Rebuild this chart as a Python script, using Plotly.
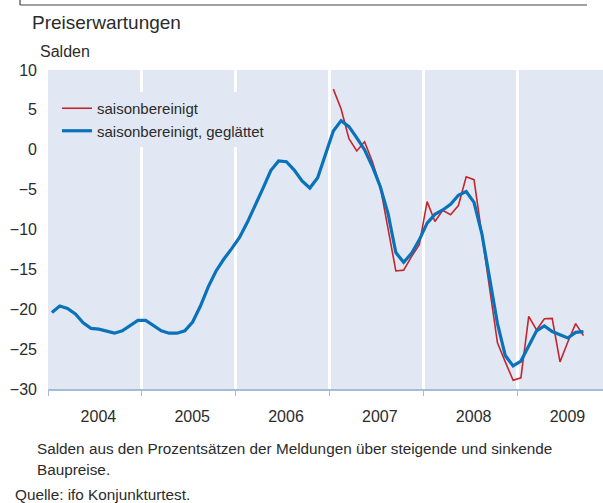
import plotly.graph_objects as go

# Monthly index 0 = Jan 2004
months_blue = list(range(69))
blue = [-20.4, -19.6, -19.9, -20.6, -21.7, -22.4, -22.5, -22.8, -23.0, -22.7, -22.05, -21.4,
        -21.4, -22.0, -22.7, -23.0, -23.0, -22.7, -21.6, -19.6, -17.2, -15.2, -13.7, -12.4,
        -11.0, -9.1, -7.05, -4.85, -2.6, -1.4, -1.5, -2.55, -3.9, -4.8, -3.5, -0.6,
        2.35, 3.65, 2.9, 1.5, 0.0, -2.1, -4.6, -8.0, -12.9, -14.1, -13.0, -11.3,
        -9.2, -8.1, -7.55, -6.85, -5.7, -5.25, -6.6, -10.5, -16.0, -21.8, -25.8, -27.1,
        -26.5, -24.6, -22.7, -22.1, -22.8, -23.2, -23.6, -22.9, -22.8]

months_red = list(range(36, 69))
red = [7.6, 5.1, 1.4, -0.15, 1.0, -1.5, -4.6, -10.0, -15.2, -15.1, -13.4, -11.9,
       -6.5, -9.0, -7.6, -8.15, -7.0, -3.4, -3.75, -10.6, -17.5, -24.2, -26.6, -28.9,
       -28.6, -20.9, -22.6, -21.2, -21.15, -26.6, -24.1, -21.8, -23.3]

years = ["2004", "2005", "2006", "2007", "2008", "2009"]
year_starts = [0, 12, 24, 36, 48, 60]
year_mids = [s + 6.45 for s in year_starts]

FONT = "Liberation Sans, Arial, sans-serif"
TXT = "#2b2b2b"
BG = "#e1e8f3"
AX = "#a3bcd8"

# plot points at mid-month
xb = [m + 0.5 for m in months_blue]
xr = [m + 0.5 for m in months_red]

fig = go.Figure()
fig.add_trace(go.Scatter(x=xr, y=red, mode="lines", name="saisonbereinigt",
                         line=dict(color="#c4262e", width=1.6)))
fig.add_trace(go.Scatter(x=xb, y=blue, mode="lines", name="saisonbereinigt, geglättet",
                         line=dict(color="#0a72b8", width=3.2)))

W, H = 603, 503
L, R, T, B = 48, 0, 70, 114
pw, ph = W - L - R, H - T - B

def px(x):
    return (x - L) / pw

def py(y):
    return (H - B - y) / ph

fig.update_layout(
    width=W, height=H,
    margin=dict(l=L, r=R, t=T, b=B),
    paper_bgcolor="white", plot_bgcolor=BG,
    font=dict(family=FONT, size=15, color=TXT),
    showlegend=True,
    legend=dict(x=px(57), y=py(92), xanchor="left", yanchor="top",
                bgcolor=BG, borderwidth=0, font=dict(size=15, color=TXT),
                tracegroupgap=0, itemwidth=30),
    xaxis=dict(range=[0, 71], tickmode="array", tickvals=year_mids, ticktext=years,
               ticks="", showgrid=False, zeroline=False,
               showline=True, linecolor=AX, linewidth=1.5,
               tickfont=dict(size=16, color=TXT), ticklabelstandoff=12,
               minor=dict(tickmode="array", tickvals=year_starts, ticks="outside",
                          ticklen=5, tickcolor=AX, tickwidth=1,
                          showgrid=True, gridcolor="white", gridwidth=3)),
    yaxis=dict(range=[-30, 10], tickmode="array", tickvals=list(range(-30, 11, 5)),
               ticks="", showgrid=False, zeroline=False, showline=False,
               tickfont=dict(size=16, color=TXT), ticklabelstandoff=10),
)

# thin frame at the top-left (remnant of a box above the chart)
fig.add_shape(type="line", xref="paper", yref="paper", x0=px(20), x1=px(587),
              y0=py(5), y1=py(5), line=dict(color="#444444", width=1.2), layer="above")
fig.add_shape(type="line", xref="paper", yref="paper", x0=px(20), x1=px(20),
              y0=py(-2), y1=py(5), line=dict(color="#444444", width=1.2), layer="above")

ann = [
    dict(text="Preiserwartungen", x=px(30), y=py(22), size=19),
    dict(text="Salden", x=px(38), y=py(52), size=16),
    dict(text="Salden aus den Prozentsätzen der Meldungen über steigende und sinkende", x=px(35), y=py(448), size=15.3),
    dict(text="Baupreise.", x=px(35), y=py(470), size=15.3),
    dict(text="Quelle: ifo Konjunkturtest.", x=px(13), y=py(494), size=15.3),
]
for a in ann:
    fig.add_annotation(text=a["text"], x=a["x"], y=a["y"], xref="paper", yref="paper",
                       xanchor="left", yanchor="middle", showarrow=False,
                       font=dict(family=FONT, size=a["size"], color=TXT))

fig.write_html("out.html", config={"displayModeBar": False},
               post_script="document.body.style.margin='0';document.body.style.overflow='hidden';")
